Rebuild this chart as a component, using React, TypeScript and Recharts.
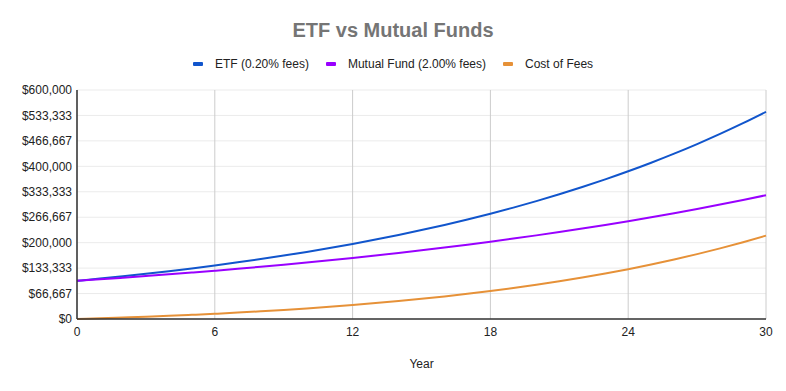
import React from "react";
import { LineChart, Line, XAxis, YAxis, CartesianGrid, Legend, Label } from "recharts";

const years = [0,1,2,3,4,5,6,7,8,9,10,11,12,13,14,15,16,17,18,19,20,21,22,23,24,25,26,27,28,29,30];
const etf = [100000,105800,111936,118429,125298,132565,140254,148388,156995,166101,175734,185927,196711,208120,220191,232962,246474,260769,275894,291896,308826,326737,345688,365738,386951,409394,433139,458261,484840,512961,542713];
const mutualFund = [100000,104000,108160,112486,116986,121665,126532,131593,136857,142331,148024,153945,160103,166507,173168,180094,187298,194790,202582,210685,219112,227877,236992,246472,256330,266584,277247,288337,299870,311865,324340];
const costOfFees = [0,1800,3776,5943,8312,10900,13722,16795,20138,23770,27710,31982,36608,41613,47023,52868,59176,65979,73312,81211,89714,98860,108696,119266,130621,142810,155892,169924,184970,201096,218373];
const xTicks = [0,6,12,18,24,30];
const yTicks = [0,66667,133333,200000,266667,333333,400000,466667,533333,600000];
const seriesNames = ["ETF (0.20% fees)", "Mutual Fund (2.00% fees)", "Cost of Fees"];
const seriesColors = ["#1155cc", "#9900ff", "#e69138"];
const titleText = "ETF vs Mutual Funds";
const xTitle = "Year";

const data = years.map((y, i) => ({ year: y, etf: etf[i], mf: mutualFund[i], cost: costOfFees[i] }));

const FONT = "'Liberation Sans', Arial, sans-serif";

const fmt = (v: number) => "$" + Math.round(v).toLocaleString("en-US");

const LegendContent = () => (
  <div style={{ display: "flex", justifyContent: "center", alignItems: "center", fontFamily: FONT, fontSize: 12, color: "#222" }}>
    {seriesNames.map((n, i) => (
      <div key={n} style={{ display: "flex", alignItems: "center", marginRight: i < 2 ? 17 : 0 }}>
        <span style={{ display: "inline-block", width: 10, height: 4, borderRadius: 1, background: seriesColors[i], marginRight: 12 }} />
        <span>{n}</span>
      </div>
    ))}
  </div>
);

export default function App() {
  return (
    <div style={{ position: "absolute", left: 0, top: 0, width: 786, height: 391, background: "#fff" }}>
      <div style={{ position: "absolute", left: 0, top: 19, width: 786, textAlign: "center", fontFamily: FONT, fontWeight: "bold", fontSize: 20, color: "#757575" }}>
        {titleText}
      </div>
      <LineChart width={786} height={391} data={data} margin={{ top: 90, right: 20, bottom: 42, left: 0 }}>
        <CartesianGrid horizontal={true} vertical={false} stroke="#ebebeb" />
        <CartesianGrid horizontal={false} vertical={true} stroke="#cccccc" />
        <XAxis
          dataKey="year"
          type="number"
          domain={[0, 30]}
          ticks={xTicks}
          height={30}
          tickLine={false}
          axisLine={{ stroke: "#333", strokeWidth: 1.5 }}
          tick={{ fill: "#222", fontSize: 12, fontFamily: FONT }}
          interval={0}
        >
          <Label value={xTitle} position="insideBottom" offset={-19} style={{ fill: "#222", fontSize: 12, fontFamily: FONT }} />
        </XAxis>
        <YAxis
          width={77}
          domain={[0, 600000]}
          ticks={yTicks}
          tickFormatter={fmt}
          tickLine={false}
          tickSize={3}
          tickMargin={2}
          axisLine={{ stroke: "#333", strokeWidth: 1.5 }}
          tick={{ fill: "#222", fontSize: 12, fontFamily: FONT }}
          interval={0}
        />
        <Legend verticalAlign="middle" align="center" layout="horizontal" wrapperStyle={{ top: 57, left: 0, width: 786 }} content={<LegendContent />} />
        <Line type="monotone" dataKey="etf" name={seriesNames[0]} stroke={seriesColors[0]} strokeWidth={2} dot={false} isAnimationActive={false} />
        <Line type="monotone" dataKey="mf" name={seriesNames[1]} stroke={seriesColors[1]} strokeWidth={2} dot={false} isAnimationActive={false} />
        <Line type="monotone" dataKey="cost" name={seriesNames[2]} stroke={seriesColors[2]} strokeWidth={2} dot={false} isAnimationActive={false} />
      </LineChart>
    </div>
  );
}
